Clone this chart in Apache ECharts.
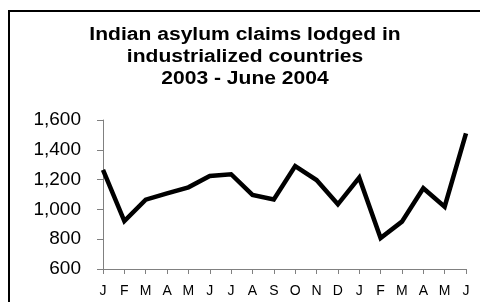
<!DOCTYPE html>
<html><head><meta charset="utf-8">
<script src="https://cdn.jsdelivr.net/npm/echarts@6/dist/echarts.min.js"></script>
<style>html,body{margin:0;padding:0;background:#fff}#c{width:480px;height:302px}</style>
</head><body><div id="c"></div>
<script>
var months = ['J','F','M','A','M','J','J','A','S','O','N','D','J','F','M','A','M','J'];
var claims = [1265, 922, 1065, 1108, 1148, 1224, 1236, 1097, 1066, 1291, 1197, 1034, 1213, 808, 918, 1142, 1018, 1511];
var yTicks = { min: 600, max: 1600, interval: 200 };
var titleText = 'Indian asylum claims lodged in\nindustrialized countries\n2003 - June 2004';

var chart = echarts.init(document.getElementById('c'), null, { renderer: 'canvas' });
chart.setOption({
  animation: false,
  backgroundColor: '#fff',
  graphic: [{
    type: 'rect', shape: { x: 9, y: 11, width: 480, height: 300 },
    style: { fill: 'none', stroke: '#000', lineWidth: 2 }, silent: true
  }, {
    type: 'text', x: 245, y: 24, scaleX: 1.17, scaleY: 1, silent: true,
    style: {
      text: titleText, x: 0, y: 0, align: 'center', verticalAlign: 'top',
      fontFamily: 'Liberation Sans, Arial', fontWeight: 'bold', fontSize: 18, lineHeight: 22, fill: '#000'
    }
  }],
  grid: { left: 103, right: 14, top: 120, bottom: 33 },
  xAxis: {
    type: 'category', data: months, boundaryGap: false,
    axisLine: { lineStyle: { color: '#808080', width: 1 } },
    axisTick: { alignWithLabel: true, length: 5, lineStyle: { color: '#808080' } },
    axisLabel: { margin: 15, fontFamily: 'Liberation Sans, Arial', fontSize: 14, color: '#000', interval: 0 },
    splitLine: { show: false }
  },
  yAxis: {
    type: 'value', min: yTicks.min, max: yTicks.max, interval: yTicks.interval,
    axisLine: { show: true, lineStyle: { color: '#808080', width: 1 } },
    axisTick: { show: true, length: 6, lineStyle: { color: '#808080' } },
    axisLabel: { margin: 22, fontFamily: 'Liberation Sans, Arial', fontSize: 19, color: '#000',
      formatter: function (v) { return v.toLocaleString('en-US'); } },
    splitLine: { show: false }
  },
  series: [{
    type: 'line', data: claims, showSymbol: false, symbol: 'none',
    lineStyle: { color: '#000', width: 4.5, join: 'miter' }
  }]
});
</script>
</body></html>
